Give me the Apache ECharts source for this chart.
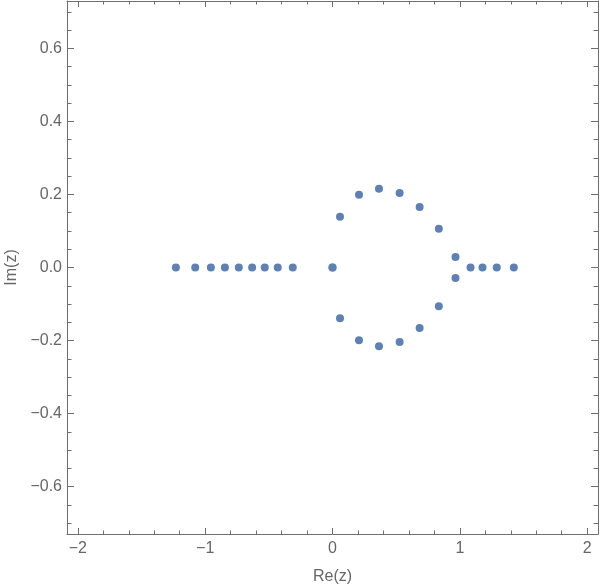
<!DOCTYPE html>
<html>
<head>
<meta charset="utf-8">
<script src="https://cdn.jsdelivr.net/npm/echarts@6/dist/echarts.min.js"></script>
<style>html,body{margin:0;padding:0;background:#fff}#c{width:600px;height:586px}</style>
</head>
<body>
<div id="c"></div>
<script>
// Real zeros (on the real axis)
var realRe = [-1.23, -1.078, -0.955, -0.845, -0.736, -0.631, -0.532, -0.43, -0.312, 0, 0, 1.084, 1.178, 1.29, 1.424];
// Complex zeros (upper half); lower half is the conjugate
var cplxRe = [0.059, 0.208, 0.365, 0.527, 0.684, 0.835, 0.966];
var cplxIm = [0.139, 0.199, 0.216, 0.204, 0.166, 0.106, 0.029];
// Axis ticks
var xTicks = [-2, -1, 0, 1, 2];
var yTicks = [-0.6, -0.4, -0.2, 0, 0.2, 0.4, 0.6];
var xRange = [-2.085, 2.085];
var yRange = [-0.73, 0.73];

function minor(lo, hi, step, majors) {
  var out = [];
  var n = Math.round((hi - lo) / step);
  for (var i = 0; i <= n; i++) {
    var v = +(lo + i * step).toFixed(4);
    var isMajor = majors.some(function (m) { return Math.abs(m - v) < 1e-6; });
    if (!isMajor) out.push(v);
  }
  return out;
}
var xMinor = minor(-2, 2, 0.2, xTicks);
var yMinor = minor(-0.7, 0.7, 0.05, yTicks);

var pts = [];
realRe.forEach(function (r) { pts.push([r, 0]); });
cplxRe.forEach(function (r, i) { pts.push([r, cplxIm[i]]); pts.push([r, -cplxIm[i]]); });

function fmt(v) {
  return v < 0 ? '\u2212' + Math.abs(v) : String(v);
}
function fmtY(v) {
  var s = Math.abs(v).toFixed(1);
  return v < -1e-9 ? '\u2212' + s : s;
}

var lineColor = '#6e6e6e';
var textColor = '#666';
var font = 'Liberation Sans';

function xAx(pos, ticks, len, showLabel, showLine, name) {
  return {
    type: 'value', position: pos, min: xRange[0], max: xRange[1],
    splitLine: { show: false },
    axisLine: { show: showLine, onZero: false, lineStyle: { color: lineColor, width: 1 } },
    axisTick: { show: true, inside: true, length: len, customValues: ticks, lineStyle: { color: lineColor } },
    axisLabel: { show: showLabel, customValues: ticks, formatter: fmt, color: textColor, fontSize: 16, fontFamily: font, margin: 7 },
    name: name || '', nameLocation: 'middle', nameGap: 35,
    nameTextStyle: { color: textColor, fontSize: 16, fontFamily: font }
  };
}
function yAx(pos, ticks, len, showLabel, showLine, name) {
  return {
    type: 'value', position: pos, min: yRange[0], max: yRange[1],
    splitLine: { show: false },
    axisLine: { show: showLine, onZero: false, lineStyle: { color: lineColor, width: 1 } },
    axisTick: { show: true, inside: true, length: len, customValues: ticks, lineStyle: { color: lineColor } },
    axisLabel: { show: showLabel, customValues: ticks, formatter: fmtY, color: textColor, fontSize: 16, fontFamily: font, margin: 5 },
    name: name || '', nameLocation: 'middle', nameGap: 46,
    nameTextStyle: { color: textColor, fontSize: 16, fontFamily: font }
  };
}

var chart = echarts.init(document.getElementById('c'), null, { renderer: 'canvas' });
chart.setOption({
  animation: false,
  backgroundColor: '#fff',
  grid: { left: 67, right: 2, top: 1, bottom: 52, containLabel: false, outerBoundsMode: 'none' },
  xAxis: [
    xAx('bottom', xTicks, 6, true, true, 'Re(z)'),
    xAx('top', xTicks, 6, false, true),
    xAx('bottom', xMinor, 3.5, false, false),
    xAx('top', xMinor, 3.5, false, false)
  ],
  yAxis: [
    yAx('left', yTicks, 7, true, true, 'Im(z)'),
    yAx('right', yTicks, 7, false, true),
    yAx('left', yMinor, 4.5, false, false),
    yAx('right', yMinor, 4.5, false, false)
  ],
  series: [{
    type: 'scatter', xAxisIndex: 0, yAxisIndex: 0,
    data: pts, symbolSize: 8,
    itemStyle: { color: '#5E81B5', opacity: 1 }
  }]
});
</script>
</body>
</html>
